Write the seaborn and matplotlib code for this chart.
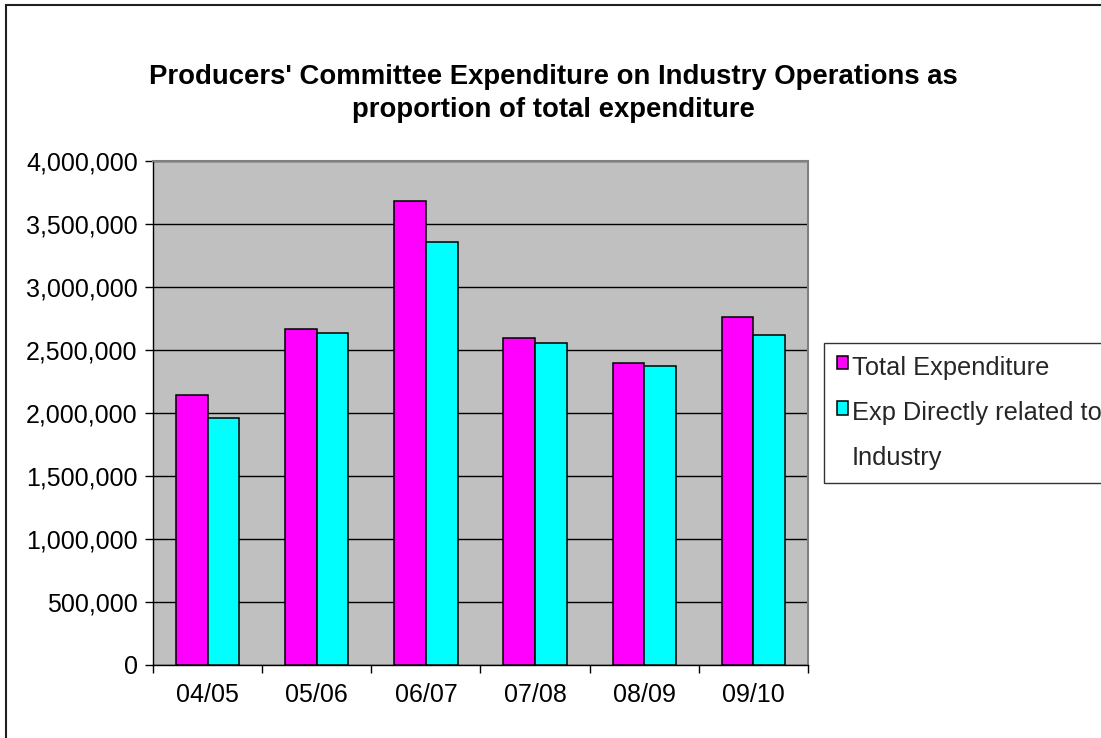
import numpy as np
import pandas as pd
import matplotlib
matplotlib.use("Agg")
import matplotlib.pyplot as plt
import matplotlib.ticker as mticker
from matplotlib.patches import Rectangle
import seaborn as sns

# ---- data ----
years = ["04/05", "05/06", "06/07", "07/08", "08/09", "09/10"]
total_expenditure = [2145000, 2664000, 3685000, 2593000, 2397000, 2762000]
direct_industry = [1963000, 2633000, 3359000, 2553000, 2373000, 2619000]
series_names = ["Total Expenditure", "Exp Directly related to\nIndustry"]
series_colors = ["#FF00FF", "#00FFFF"]
title_text = "Producers' Committee Expenditure on Industry Operations as\nproportion of total expenditure"
y_ticks = list(range(0, 4000001, 500000))

df = pd.DataFrame({
    "year": years * 2,
    "value": total_expenditure + direct_industry,
    "series": [series_names[0]] * len(years) + [series_names[1]] * len(years),
})

sns.set_theme(style="white")
plt.rcParams["font.family"] = ["Liberation Sans", "DejaVu Sans"]

W, H = 1101, 738
fig = plt.figure(figsize=(W / 100, H / 100), dpi=100)
fig.patch.set_facecolor("white")
ax = fig.add_axes([153 / W, 1 - 665 / H, (808 - 153) / W, (665 - 161) / H])
ax.set_facecolor("#C0C0C0")

sns.barplot(data=df, x="year", y="value", hue="series", order=years,
            hue_order=series_names, palette=series_colors, width=0.58,
            edgecolor="black", linewidth=1.1, saturation=1, legend=False, ax=ax,
            zorder=3)

ax.set_xlim(-0.5, len(years) - 0.5)
ax.set_ylim(0, 4000000)
ax.set_yticks(y_ticks)
ax.yaxis.set_major_formatter(mticker.FuncFormatter(lambda v, p: f"{int(v):,}"))
ax.set_xlabel("")
ax.set_ylabel("")

ax.grid(axis="y", color="black", linewidth=1.0)
ax.grid(axis="x", visible=False)
ax.set_axisbelow(True)

# category boundary tick marks
ax.set_xticks(np.arange(-0.5, len(years)), minor=True)
ax.tick_params(axis="x", which="minor", length=6, width=1, color="black", direction="out", bottom=True)
ax.tick_params(axis="x", which="major", length=0, pad=13, labelsize=18, labelcolor="black")
ax.tick_params(axis="y", which="major", length=6, width=1, color="black", direction="out", left=True,
               pad=5, labelsize=18, labelcolor="black")

for side in ["left", "bottom"]:
    ax.spines[side].set_color("black")
    ax.spines[side].set_linewidth(1.0)
for side in ["top", "right"]:
    ax.spines[side].set_color("#808080")
    ax.spines[side].set_linewidth(1.5)
    ax.spines[side].set_visible(True)

# title
fig.text(553 / W, 1 - 93.5 / H, title_text, ha="center", va="center",
         fontsize=19.8, fontweight="bold", linespacing=1.35, color="black")

# legend
leg = ax.legend(ax.containers, series_names, loc="upper left",
                bbox_to_anchor=(824 / W, 1 - 343 / H), bbox_transform=fig.transFigure,
                fontsize=18.3, frameon=True, fancybox=False, shadow=False,
                borderpad=0.5, labelspacing=0.85, handlelength=0.44, handleheight=0.44,
                handletextpad=0.15, borderaxespad=0)
leg.get_frame().set_edgecolor("black")
leg.get_frame().set_linewidth(1.0)
leg.get_frame().set_facecolor("white")
for t in leg.get_texts():
    t.set_linespacing(2.1)
try:
    for col in leg._legend_handle_box.get_children():
        for item in col.get_children():
            item.align = "top"
except Exception:
    pass

# chart border (extends past right/bottom edge as in reference)
fig.add_artist(Rectangle((6 / W, -0.05), 1.2, (1 - 5 / H) + 0.05, transform=fig.transFigure,
                         fill=False, edgecolor="#202020", linewidth=1.5, clip_on=False))

fig.savefig("out.png", dpi=100, facecolor="white")
